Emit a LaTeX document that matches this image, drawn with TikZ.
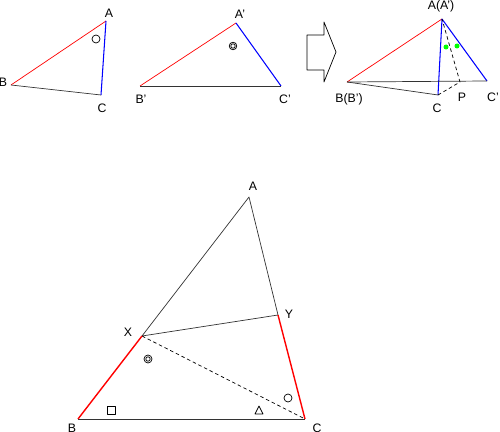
\documentclass[tikz,border=0pt]{standalone}
\usepackage{fontspec}
\setmainfont{Liberation Sans}

\begin{document}
\begin{tikzpicture}[x=0.02cm, y=-0.02cm, font=\scriptsize, line join=round,
		fine/.style={dash pattern=on 2pt off 1.6pt}]
		\useasboundingbox (0,0) rectangle (500,432);
		% first triangle
		\coordinate (A1) at (106,21); \coordinate (B1) at (11,85); \coordinate (C1) at (101,95);
		\draw[red] (B1) -- (A1);
		\draw[blue, semithick] (A1) -- (C1);
		\draw[black!80] (B1) -- (C1);
		\node (la1) at (109,13) {A};
		\node (lb1) at (3,82) {B};
		\node (lc1) at (102,108) {C};
		\draw (96,39) circle[radius=4];
		% second triangle
		\coordinate (A2) at (236,23); \coordinate (B2) at (140,86); \coordinate (C2) at (281,86);
		\draw[red] (B2) -- (A2);
		\draw[blue, semithick] (A2) -- (C2);
		\draw[black!80] (B2) -- (C2);
		\node (la2) at (240,14) {A'};
		\node (lb2) at (141,99) {B'};
		\node (lc2) at (285,99) {C'};
		\draw (233,46) circle[radius=3.8] circle[radius=2.2];
		% block arrow
		\draw (307,35) -- (324,35) -- (324,22) -- (336,52) -- (324,82) -- (324,70) -- (307,70) -- cycle;
		% third figure
		\coordinate (A3) at (442,19); \coordinate (B3) at (347,82); \coordinate (C3) at (438,95);
		\coordinate (D3) at (487,81); \coordinate (P3) at (460,82);
		\draw[red] (B3) -- (A3);
		\draw[blue, semithick] (A3) -- (C3);
		\draw[blue, semithick] (A3) -- (D3);
		\draw[black!80] (B3) -- (C3);
		\draw[black!80] (B3) -- (D3);
		\draw[fine] (C3) -- (P3) -- (A3);
		\fill[green] (446,47) circle[radius=2.5] (457,46) circle[radius=2.5];
		\node (la3) at (441,6) {A(A')};
		\node (lb3) at (349,99) {B(B')};
		\node (lc3) at (437,108) {C};
		\node (lp3) at (462,97) {P};
		\node (ld3) at (493,97) {C'};
		% big triangle
		\coordinate (A) at (249,197); \coordinate (B) at (78,419); \coordinate (C) at (305,419);
		\coordinate (X) at (142,336); \coordinate (Y) at (278,315);
		\draw[black!80] (X) -- (A) -- (Y);
		\draw[black!80] (X) -- (Y);
		\draw[black!80] (B) -- (C);
		\draw[fine] (X) -- (C);
		\draw[red, thick] (B) -- (X);
		\draw[red, thick] (Y) -- (C);
		\node (la) at (253,186) {A};
		\node (lx) at (128,332) {X};
		\node (ly) at (289,314) {Y};
		\node (lb) at (72,428) {B};
		\node (lc) at (317,428) {C};
		\draw (148,359) circle[radius=4] circle[radius=2.2];
		\draw (107,406) rectangle (115,414);
		\draw (255,414) -- (263,414) -- (259,406) -- cycle;
		\draw (288,398) circle[radius=4];
	\end{tikzpicture}
\end{document}
